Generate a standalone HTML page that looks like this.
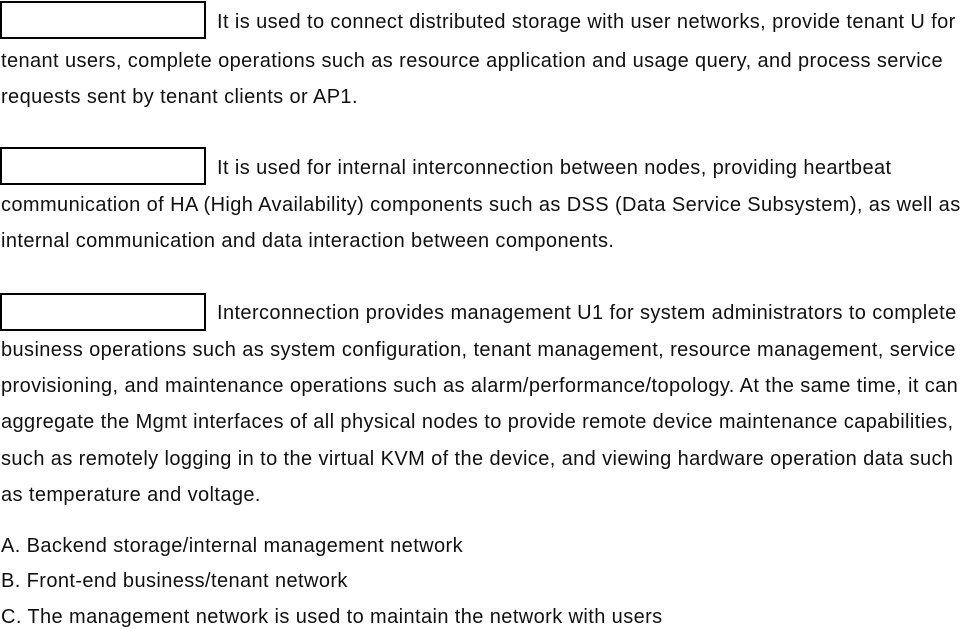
<!DOCTYPE html>
<html><head><style>
body{margin:0;width:971px;height:629px;background:#fff;position:relative;overflow:hidden;font-family:"Liberation Sans",sans-serif;font-size:20px;letter-spacing:0.4px;color:#111}
.l{position:absolute;left:1px;white-space:nowrap;line-height:20px}
.b{position:absolute;left:0;width:202px;height:34px;border:2.5px solid #000;box-sizing:content-box}
</style></head><body>
<div class="b" style="top:1px"></div>
<div class="l" style="left:217px;top:12px">It is used to connect distributed storage with user networks, provide tenant U for</div>
<div class="l" style="top:51px">tenant users, complete operations such as resource application and usage query, and process service</div>
<div class="l" style="top:87px">requests sent by tenant clients or AP1.</div>

<div class="b" style="top:147px"></div>
<div class="l" style="left:217px;top:158px">It is used for internal interconnection between nodes, providing heartbeat</div>
<div class="l" style="top:195px">communication of HA (High Availability) components such as DSS (Data Service Subsystem), as well as</div>
<div class="l" style="top:231px">internal communication and data interaction between components.</div>

<div class="b" style="top:293px"></div>
<div class="l" style="left:217px;top:303px">Interconnection provides management U1 for system administrators to complete</div>
<div class="l" style="top:340px">business operations such as system configuration, tenant management, resource management, service</div>
<div class="l" style="top:376px">provisioning, and maintenance operations such as alarm/performance/topology. At the same time, it can</div>
<div class="l" style="top:412px">aggregate the Mgmt interfaces of all physical nodes to provide remote device maintenance capabilities,</div>
<div class="l" style="top:449px">such as remotely logging in to the virtual KVM of the device, and viewing hardware operation data such</div>
<div class="l" style="top:485px">as temperature and voltage.</div>

<div class="l" style="top:536px">A. Backend storage/internal management network</div>
<div class="l" style="top:571px">B. Front-end business/tenant network</div>
<div class="l" style="top:607px">C. The management network is used to maintain the network with users</div>
</body></html>
